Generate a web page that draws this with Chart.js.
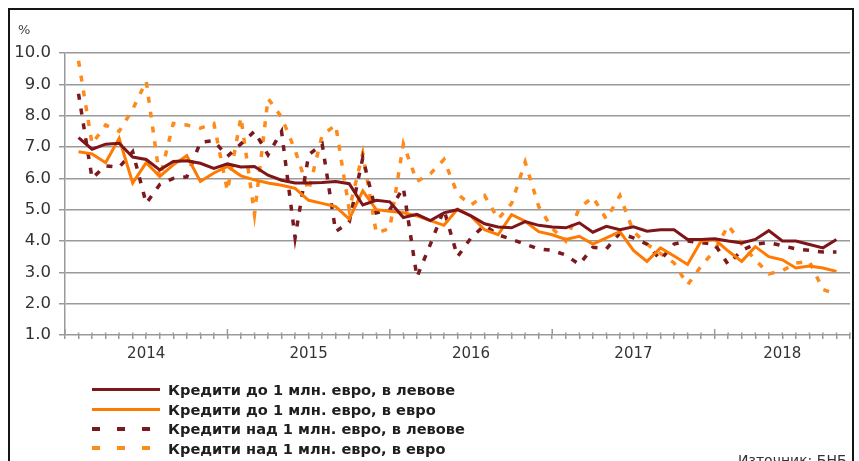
<!DOCTYPE html>
<html>
<head>
<meta charset="utf-8">
<script src="https://cdn.jsdelivr.net/npm/chart.js@4.4.0/dist/chart.umd.min.js"></script>
<style>
  html, body { margin: 0; padding: 0; background: #fff; }
  #wrap { position: relative; width: 859px; height: 461px; overflow: hidden; font-family: "DejaVu Sans", sans-serif; }
  #frame { position: absolute; left: 8px; top: 8px; width: 842px; height: 480px; border: 2px solid #151515; }
  canvas { position: absolute; left: 0; top: 0; }
  .unit { position: absolute; left: 18px; top: 22px; font-size: 13px; color: #444; }
  .legend { position: absolute; left: 92px; top: 380px; }
  .row { height: 19.5px; display: flex; align-items: center; }
  .sw { width: 68px; height: 3px; margin-right: 8px; }
  .sw.dash { height: 4px; }
  .lbl { font-weight: bold; font-size: 14.6px; color: #1e1e1e; white-space: nowrap; }
  .src { position: absolute; left: 738px; top: 452px; font-size: 14px; color: #333; }
</style>
</head>
<body>
<div id="wrap">
  <div id="frame"></div>
  <canvas id="c" width="859" height="461"></canvas>
  <div class="unit">%</div>
  <div class="legend" id="legend"></div>
  <div class="src">Източник: БНБ</div>
</div>
<script>
// monthly rates, Jan 2014 .. Sep 2018 (57 months), %
const years = ['2014', '2015', '2016', '2017', '2018'];
const yearMid = [5, 17, 29, 41, 52]; // month index under each year label

const levSmall = [7.3, 6.93, 7.09, 7.12, 6.68, 6.6, 6.27, 6.54, 6.56, 6.48, 6.32, 6.46, 6.36,
  6.38, 6.1, 5.94, 5.85, 5.85, 5.87, 5.9, 5.83, 5.15, 5.3, 5.25, 4.75, 4.85, 4.65, 4.9,
  5.0, 4.8, 4.55, 4.45, 4.42, 4.62, 4.5, 4.45, 4.42, 4.58, 4.28, 4.47, 4.36, 4.45,
  4.31, 4.36, 4.36, 4.05, 4.05, 4.07, 4.0, 3.94, 4.05, 4.33, 4.0, 4.0, 3.89, 3.78, 4.05];

const eurSmall = [6.85, 6.78, 6.5, 7.28, 5.85, 6.5, 6.06, 6.43, 6.72, 5.9, 6.17, 6.38, 6.08,
  5.95, 5.85, 5.78, 5.68, 5.3, 5.2, 5.1, 4.7, 5.6, 5.0, 4.95, 4.9, 4.8, 4.65, 4.5,
  5.02, 4.79, 4.36, 4.2, 4.84, 4.63, 4.3, 4.2, 4.05, 4.15, 3.9, 4.1, 4.3, 3.7,
  3.35, 3.78, 3.52, 3.25, 4.0, 4.05, 3.68, 3.35, 3.82, 3.5, 3.4, 3.14, 3.2, 3.14, 3.03];

const levLarge = [8.7, 6.0, 6.4, 6.35, 6.85, 5.2, 5.8, 6.0, 6.05, 7.15, 7.2, 6.7, 7.1,
  7.5, 6.75, 7.5, 4.1, 6.75, 7.1, 4.3, 4.6, 6.65, 4.9, 5.0, 5.7, 2.85, 3.9, 5.0,
  3.5, 4.1, 4.5, 4.2, 4.05, 3.9, 3.75, 3.7, 3.55, 3.25, 3.8, 3.75, 4.25, 4.1,
  3.9, 3.4, 3.9, 4.0, 3.95, 3.9, 3.25, 3.7, 3.9, 3.95, 3.85, 3.75, 3.7, 3.65, 3.65];

const eurLarge = [9.75, 7.1, 7.7, 7.5, 8.2, 9.1, 6.0, 7.75, 7.7, 7.6, 7.75, 5.6, 7.95,
  4.85, 8.55, 7.95, 6.9, 5.6, 7.38, 7.7, 5.0, 6.8, 4.25, 4.4, 7.1, 5.9, 6.15, 6.6,
  5.5, 5.15, 5.45, 4.7, 5.2, 6.52, 5.1, 4.4, 4.0, 5.05, 5.4, 4.7, 5.45, 4.3,
  3.9, 3.6, 3.3, 2.6, 3.2, 3.7, 4.5, 3.9, 3.4, 2.95, 3.05, 3.3, 3.35, 2.45, 2.3];

const seriesNames = [
  'Кредити до 1 млн. евро, в левове',
  'Кредити до 1 млн. евро, в евро',
  'Кредити над 1 млн. евро, в левове',
  'Кредити над 1 млн. евро, в евро'
];

const DARK = '#7e1519', ORANGE = '#ff7a00';
const DARK_D = '#7a1a1e', ORANGE_D = '#ff8a1c';
const GRID = '#9a9a9a';

const toXY = arr => arr.map((v, i) => ({ x: i, y: v }));

// one tick per month boundary, from the axis start to its end
const monthTicks = [];
for (let v = -1; v <= 57; v++) monthTicks.push(v);

// longer tick marks at year boundaries, reaching up into the plot
const yearTicks = {
  id: 'yearTicks',
  afterDraw(chart) {
    const xs = chart.scales.x, ctx = chart.ctx, b = chart.chartArea.bottom;
    ctx.save();
    ctx.strokeStyle = GRID;
    ctx.lineWidth = 1.5;
    xs.ticks.forEach(t => {
      const px = xs.getPixelForValue(t.value);
      const h = (t.value + 1) % 12 === 0 ? 6 : 2.5;
      ctx.beginPath();
      ctx.moveTo(px, b - h);
      ctx.lineTo(px, b);
      ctx.stroke();
    });
    ctx.restore();
  }
};

Chart.defaults.font.family = '"DejaVu Sans", sans-serif';

new Chart(document.getElementById('c'), {
  type: 'line',
  data: {
    datasets: [
      { label: seriesNames[0], data: toXY(levSmall), borderColor: DARK, borderWidth: 3 },
      { label: seriesNames[1], data: toXY(eurSmall), borderColor: ORANGE, borderWidth: 3 },
      { label: seriesNames[2], data: toXY(levLarge), borderColor: DARK_D, borderWidth: 3.5, borderDash: [6, 9] },
      { label: seriesNames[3], data: toXY(eurLarge), borderColor: ORANGE_D, borderWidth: 3.5, borderDash: [6, 9] }
    ]
  },
  options: {
    responsive: false,
    animation: false,
    devicePixelRatio: 1,
    layout: { padding: { left: 0, top: 53, right: 9, bottom: 0 } },
    elements: { point: { radius: 0 }, line: { tension: 0, fill: false, borderCapStyle: 'butt' } },
    plugins: { legend: { display: false }, tooltip: { enabled: false } },
    scales: {
      x: {
        type: 'linear',
        min: -1,
        max: 57,
        afterFit(s) { s.height = 126; },
        afterBuildTicks(s) { s.ticks = monthTicks.map(v => ({ value: v })); },
        ticks: {
          autoSkip: false,
          maxRotation: 0,
          padding: 6,
          color: '#333',
          font: { size: 15 },
          callback: v => {
            const k = yearMid.indexOf(v);
            return k >= 0 ? years[k] : '';
          }
        },
        grid: { drawOnChartArea: false, color: GRID, lineWidth: 1.5, tickLength: 4 },
        border: { display: false }
      },
      y: {
        min: 1,
        max: 10,
        afterFit(s) { s.width = 65; },
        ticks: { stepSize: 1, padding: 8, color: '#333', font: { size: 16.5 }, callback: v => v.toFixed(1) },
        grid: { color: GRID, lineWidth: 1.5, tickLength: 6 },
        border: { color: GRID, width: 1.5 }
      }
    }
  },
  plugins: [yearTicks]
});

// legend under the plot
const legendStyles = [
  { color: DARK, dash: false },
  { color: ORANGE, dash: false },
  { color: DARK_D, dash: true },
  { color: ORANGE_D, dash: true }
];
const legend = document.getElementById('legend');
seriesNames.forEach((name, i) => {
  const st = legendStyles[i];
  const row = document.createElement('div');
  row.className = 'row';
  const sw = document.createElement('div');
  sw.className = st.dash ? 'sw dash' : 'sw';
  sw.style.background = st.dash
    ? `repeating-linear-gradient(90deg, ${st.color} 0 8px, transparent 8px 25px)`
    : st.color;
  const lbl = document.createElement('span');
  lbl.className = 'lbl';
  lbl.textContent = name;
  row.appendChild(sw);
  row.appendChild(lbl);
  legend.appendChild(row);
});
</script>
</body>
</html>
